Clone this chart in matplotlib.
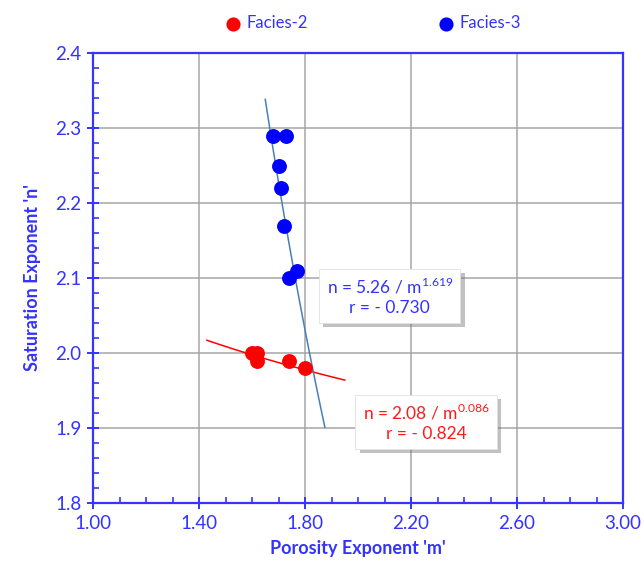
import numpy as np
import matplotlib
matplotlib.use("Agg")
import matplotlib.pyplot as plt
from matplotlib.ticker import MultipleLocator, FormatStrFormatter
from matplotlib import patheffects

plt.rcParams['font.family'] = ['Lato', 'DejaVu Sans']
plt.rcParams['mathtext.fontset'] = 'custom'
plt.rcParams['mathtext.rm'] = 'Lato'

# Facies-2 samples (porosity exponent m, saturation exponent n)
f2_m = [1.60, 1.62, 1.62, 1.74, 1.80]
f2_n = [2.00, 2.00, 1.99, 1.99, 1.98]

# Facies-3 samples
f3_m = [1.68, 1.73, 1.70, 1.71, 1.72, 1.77, 1.74]
f3_n = [2.29, 2.29, 2.25, 2.22, 2.17, 2.11, 2.10]

# Power-law fits n = a / m^b
f2_a, f2_b, f2_r = 2.08, 0.086, -0.824
f3_a, f3_b, f3_r = 5.26, 1.619, -0.730
f2_range = (1.43, 1.95)
f3_range = (1.65, 1.875)

x_ticks = [1.00, 1.40, 1.80, 2.20, 2.60, 3.00]
y_ticks = [1.8, 1.9, 2.0, 2.1, 2.2, 2.3, 2.4]

BLUE_TXT = '#3333ff'
AX_BLUE = '#3535ff'

fig = plt.figure(figsize=(6.44, 5.70), dpi=100)
ax = fig.add_axes([93/644, 1-503/570, (623-93)/644, (503-53)/570])

ax.set_xlim(1.0, 3.0)
ax.set_ylim(1.8, 2.4)
ax.set_xticks(x_ticks)
ax.set_yticks(y_ticks)
ax.xaxis.set_major_formatter(FormatStrFormatter('%.2f'))
ax.yaxis.set_major_formatter(FormatStrFormatter('%.1f'))
ax.xaxis.set_minor_locator(MultipleLocator(0.1))
ax.yaxis.set_minor_locator(MultipleLocator(0.02))

ax.grid(True, which='major', color='#a6a6a6', linewidth=1.1, zorder=0)
ax.set_axisbelow(True)

for s in ax.spines.values():
    s.set_color(AX_BLUE)
    s.set_linewidth(1.6)

ax.tick_params(which='major', direction='inout', length=9, width=1.4,
               color=AX_BLUE, labelcolor=BLUE_TXT, labelsize=13.5, pad=4)
ax.tick_params(which='minor', direction='in', length=4, width=1.2,
               color=AX_BLUE)

# trend lines
m2 = np.linspace(*f2_range, 100)
ax.plot(m2, f2_a / m2 ** f2_b, color='#ff0000', linewidth=1.1, zorder=2)
m3 = np.linspace(*f3_range, 100)
ax.plot(m3, f3_a / m3 ** f3_b, color='#4a7ebb', linewidth=1.1, zorder=2)

ax.scatter(f2_m, f2_n, s=115, color='#ff0000', zorder=3, label='Facies-2',
           linewidths=0)
ax.scatter(f3_m, f3_n, s=115, color='#0000ff', zorder=3, label='Facies-3',
           linewidths=0)

shadow = [patheffects.withSimplePatchShadow(offset=(3, -3), shadow_rgbFace='#777777', alpha=0.45)]

t3 = ax.text(2.12, 2.076,
             'n = %.2f / m$^{\\mathregular{%.3f}}$\nr = - %.3f' % (f3_a, f3_b, abs(f3_r)),
             color=BLUE_TXT, fontsize=12.5, ha='center', va='center',
             multialignment='center', linespacing=1.3, zorder=5,
             bbox=dict(boxstyle='square,pad=0.42', facecolor='white',
                       edgecolor='#e0e0e0', linewidth=0.6))
t3.get_bbox_patch().set_path_effects(shadow)

t2 = ax.text(2.257, 1.908,
             'n = %.2f / m$^{\\mathregular{%.3f}}$\nr = - %.3f' % (f2_a, f2_b, abs(f2_r)),
             color='#ff1a1a', fontsize=12.5, ha='center', va='center',
             multialignment='center', linespacing=1.3, zorder=5,
             bbox=dict(boxstyle='square,pad=0.42', facecolor='white',
                       edgecolor='#e0e0e0', linewidth=0.6))
t2.get_bbox_patch().set_path_effects(shadow)

ax.set_xlabel("Porosity Exponent 'm'", color=BLUE_TXT, fontsize=13,
              fontweight='bold', labelpad=6)
ax.set_ylabel("Saturation Exponent 'n'", color=BLUE_TXT, fontsize=13,
              fontweight='bold', labelpad=10)

leg = fig.legend(loc='center', bbox_to_anchor=(0.578, 1-23/570), ncol=2,
                 frameon=False, fontsize=12, handlelength=1.2,
                 handletextpad=0.2, columnspacing=7.7, markerscale=0.95)
for txt in leg.get_texts():
    txt.set_color(BLUE_TXT)

fig.savefig('out.png', dpi=100)
